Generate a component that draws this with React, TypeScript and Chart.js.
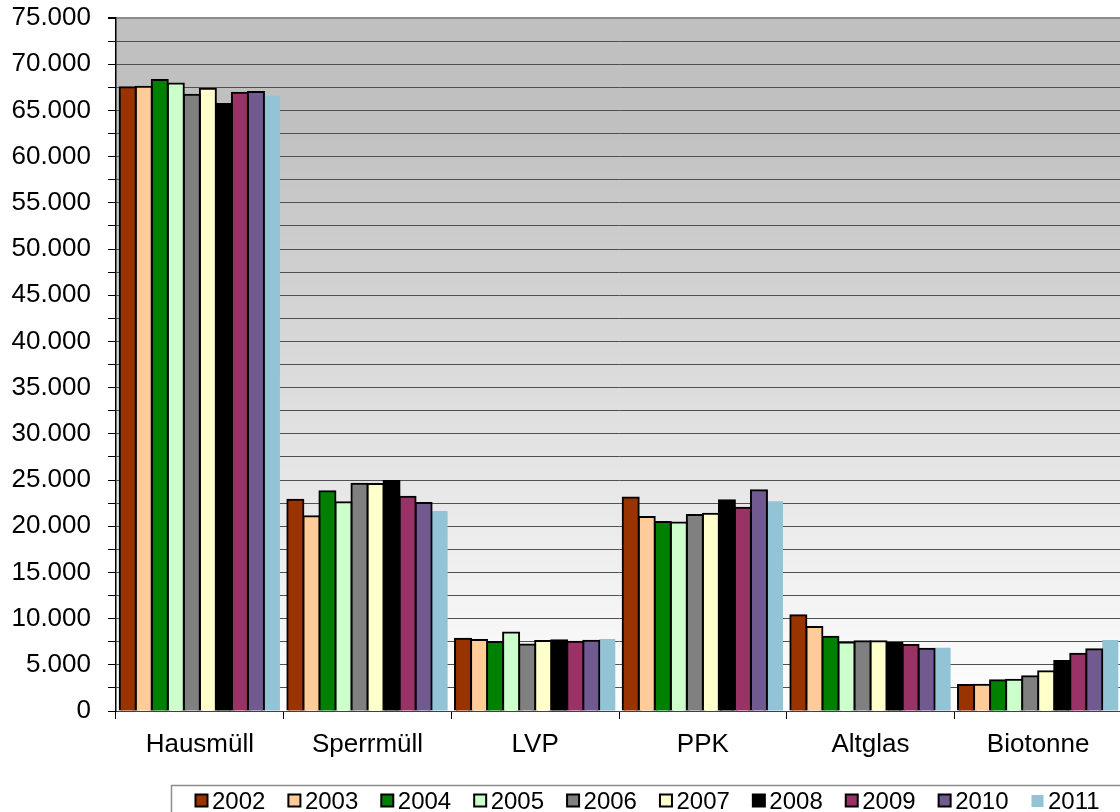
import React, { useEffect, useRef } from "react";
import { Chart, registerables } from "chart.js";

Chart.register(...registerables);

const categories = ["Hausmüll", "Sperrmüll", "LVP", "PPK", "Altglas", "Biotonne"];
const years = ["2002", "2003", "2004", "2005", "2006", "2007", "2008", "2009", "2010", "2011"];

const v2002 = [67500, 22870, 7830, 23100, 10350, 2810];
const v2003 = [67570, 21070, 7680, 21000, 9090, 2850];
const v2004 = [68300, 23780, 7470, 20450, 8040, 3320];
const v2005 = [67900, 22600, 8500, 20400, 7400, 3390];
const v2006 = [66700, 24600, 7200, 21200, 7540, 3750];
const v2007 = [67350, 24570, 7580, 21350, 7540, 4300];
const v2008 = [65700, 24900, 7650, 22800, 7360, 5410];
const v2009 = [66900, 23200, 7500, 22000, 7140, 6200];
const v2010 = [67000, 22500, 7600, 23900, 6740, 6680];
const v2011 = [66600, 21650, 7800, 22700, 6850, 7680];

const seriesValues = [v2002, v2003, v2004, v2005, v2006, v2007, v2008, v2009, v2010, v2011];
const seriesColors = [
  "#993300", "#FFCC99", "#008000", "#CCFFCC", "#808080",
  "#FFFFCC", "#000000", "#993366", "#705A8F", "#93C4D6",
];
const borderedSeries = [true, true, true, true, true, true, true, true, true, false];

const yMin = 0;
const yMax = 75000;
const yStep = 2500;
const yLabelStep = 5000;

const FONT = "'Liberation Sans', Arial, sans-serif";

function formatThousands(v: number): string {
  const s = Math.round(v).toString();
  return s.replace(/\B(?=(\d{3})+(?!\d))/g, ".");
}

const backgroundPlugin = {
  id: "plotBackground",
  beforeDraw(chart: any) {
    const { ctx, chartArea } = chart;
    if (!chartArea) return;
    const g = ctx.createLinearGradient(0, chartArea.top, 0, chartArea.bottom);
    g.addColorStop(0, "#c0c0c0");
    g.addColorStop(0.15, "#c0c0c0");
    g.addColorStop(1, "#ffffff");
    ctx.save();
    ctx.fillStyle = g;
    ctx.fillRect(chartArea.left, chartArea.top, chartArea.right - chartArea.left, chartArea.bottom - chartArea.top);
    ctx.restore();
  },
};

const legendPlugin = {
  id: "customLegend",
  afterDraw(chart: any) {
    const { ctx } = chart;
    const boxLeft = 171.5;
    const boxTop = 785.5;
    ctx.save();
    ctx.strokeStyle = "#8c8c8c";
    ctx.lineWidth = 1.5;
    ctx.strokeRect(boxLeft, boxTop, 1100, 80);
    ctx.font = `24px ${FONT}`;
    ctx.textBaseline = "alphabetic";
    ctx.textAlign = "left";
    let x = boxLeft + 23;
    chart.data.datasets.forEach((ds: any, i: number) => {
      const bordered = borderedSeries[i];
      if (bordered) {
        ctx.fillStyle = ds.backgroundColor;
        ctx.fillRect(x + 1, 794.5, 12, 12);
        ctx.strokeStyle = "#000";
        ctx.lineWidth = 2;
        ctx.strokeRect(x + 1, 794.5, 12, 12);
      } else {
        ctx.fillStyle = ds.backgroundColor;
        ctx.fillRect(x + 1, 795, 12, 12);
      }
      ctx.fillStyle = "#000";
      const tx = x + 17.5;
      ctx.fillText(ds.label, tx, 808.5);
      const tw = ctx.measureText(ds.label).width;
      x = tx + tw + 22;
    });
    ctx.restore();
  },
};

export default function App() {
  const canvasRef = useRef<HTMLCanvasElement | null>(null);

  useEffect(() => {
    const canvas = canvasRef.current;
    if (!canvas) return;
    const chart = new Chart(canvas, {
      type: "bar",
      data: {
        labels: categories,
        datasets: years.map((y, i) => ({
          label: y,
          data: seriesValues[i],
          backgroundColor: seriesColors[i],
          borderColor: "#000000",
          borderWidth: borderedSeries[i] ? 2 : 0,
          inflateAmount: borderedSeries[i] ? 1 : 0,
          categoryPercentage: 0.956,
          barPercentage: 1.0,
        })),
      },
      options: {
        responsive: false,
        animation: false,
        devicePixelRatio: 1,
        layout: { padding: { left: 0, right: 18, top: 18, bottom: 0 } },
        plugins: {
          legend: { display: false },
          tooltip: { enabled: false },
        },
        scales: {
          x: {
            afterFit: (scale: any) => {
              scale.height = 101;
            },
            grid: {
              display: true,
              drawOnChartArea: false,
              drawTicks: true,
              tickLength: 8,
              tickColor: "#000000",
              offset: true,
            },
            border: { display: true, color: "#404040", width: 1 },
            ticks: {
              color: "#000000",
              padding: 10,
              maxRotation: 0,
              autoSkip: false,
              font: { family: FONT, size: 26 },
            },
          },
          y: {
            min: yMin,
            max: yMax,
            afterFit: (scale: any) => {
              scale.width = 116;
              scale.paddingTop = 0;
              scale.paddingBottom = 0;
            },
            grid: {
              color: (c: any) => (c.tick && c.tick.value === yMax ? "#8c8c8c" : "#505050"),
              lineWidth: (c: any) => (c.tick && c.tick.value === yMax ? 2 : 1),
              tickLength: 8,
              tickColor: "#000000",
            },
            border: { display: true, color: "#000000", width: 1.5 },
            ticks: {
              stepSize: yStep,
              autoSkip: false,
              color: "#000000",
              padding: 17,
              font: { family: FONT, size: 26 },
              callback: (v: any) => (Number(v) % yLabelStep === 0 ? formatThousands(Number(v)) : ""),
            },
          },
        },
      },
      plugins: [backgroundPlugin, legendPlugin],
    });
    return () => chart.destroy();
  }, []);

  return (
    <div
      style={{
        position: "fixed",
        left: 0,
        top: 0,
        width: 1120,
        height: 812,
        overflow: "hidden",
        background: "#ffffff",
      }}
    >
      <canvas ref={canvasRef} width={1140} height={812} style={{ display: "block" }} />
    </div>
  );
}
